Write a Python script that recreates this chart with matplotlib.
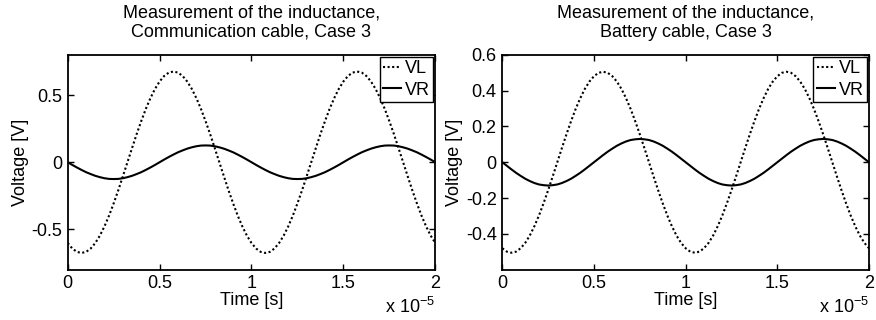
import numpy as np
import matplotlib
matplotlib.use("Agg")
import matplotlib.pyplot as plt

plt.rcParams["font.family"] = ["Liberation Sans", "DejaVu Sans"]
plt.rcParams["mathtext.fontset"] = "custom"
plt.rcParams["mathtext.rm"] = "Liberation Sans"

# Sample times in units of 1e-5 s (step 0.025)
time_units = [round(0.025 * i, 3) for i in range(81)]
time_scale = 1e-5

# Communication cable, case 3
vl_comm = [-0.601, -0.642, -0.667,
           -0.675, -0.667, -0.642, -0.601, -0.546, -0.477, -0.397, -0.306, -0.209, -0.105,
           0.000, 0.105, 0.209, 0.306, 0.397, 0.477, 0.546, 0.601, 0.642, 0.667,
           0.675, 0.667, 0.642, 0.601, 0.546, 0.477, 0.397, 0.306, 0.209, 0.105,
           0.000, -0.105, -0.209, -0.306, -0.397, -0.477, -0.546, -0.601, -0.642, -0.667,
           -0.675, -0.667, -0.642, -0.601, -0.546, -0.477, -0.397, -0.306, -0.209, -0.105,
           0.000, 0.105, 0.209, 0.306, 0.397, 0.477, 0.546, 0.601, 0.642, 0.667,
           0.675, 0.667, 0.642, 0.601, 0.546, 0.477, 0.397, 0.306, 0.209, 0.105,
           0.000, -0.105, -0.209, -0.306, -0.397, -0.477, -0.546, -0.601]
vr_comm = [0.000, -0.020, -0.039, -0.057, -0.074, -0.088, -0.101, -0.111, -0.119, -0.124,
           -0.125, -0.124, -0.119, -0.111, -0.101, -0.088, -0.074, -0.057, -0.039, -0.020,
           0.000, 0.020, 0.039, 0.057, 0.074, 0.088, 0.101, 0.111, 0.119, 0.124,
           0.125, 0.124, 0.119, 0.111, 0.101, 0.088, 0.074, 0.057, 0.039, 0.020,
           0.000, -0.020, -0.039, -0.057, -0.074, -0.088, -0.101, -0.111, -0.119, -0.124,
           -0.125, -0.124, -0.119, -0.111, -0.101, -0.088, -0.074, -0.057, -0.039, -0.020,
           0.000, 0.020, 0.039, 0.057, 0.074, 0.088, 0.101, 0.111, 0.119, 0.124,
           0.125, 0.124, 0.119, 0.111, 0.101, 0.088, 0.074, 0.057, 0.039, 0.020,
           0.000]

# Battery cable, case 3
vl_batt = [-0.480, -0.499,
           -0.505, -0.499, -0.480, -0.450, -0.409, -0.357, -0.297, -0.229, -0.156, -0.079,
           0.000, 0.079, 0.156, 0.229, 0.297, 0.357, 0.409, 0.450, 0.480, 0.499,
           0.505, 0.499, 0.480, 0.450, 0.409, 0.357, 0.297, 0.229, 0.156, 0.079,
           0.000, -0.079, -0.156, -0.229, -0.297, -0.357, -0.409, -0.450, -0.480, -0.499,
           -0.505, -0.499, -0.480, -0.450, -0.409, -0.357, -0.297, -0.229, -0.156, -0.079,
           0.000, 0.079, 0.156, 0.229, 0.297, 0.357, 0.409, 0.450, 0.480, 0.499,
           0.505, 0.499, 0.480, 0.450, 0.409, 0.357, 0.297, 0.229, 0.156, 0.079,
           0.000, -0.079, -0.156, -0.229, -0.297, -0.357, -0.409, -0.450, -0.480]
vr_batt = [0.000, -0.020, -0.040, -0.059, -0.076, -0.092, -0.105, -0.116, -0.124, -0.128,
           -0.130, -0.128, -0.124, -0.116, -0.105, -0.092, -0.076, -0.059, -0.040, -0.020,
           0.000, 0.020, 0.040, 0.059, 0.076, 0.092, 0.105, 0.116, 0.124, 0.128,
           0.130, 0.128, 0.124, 0.116, 0.105, 0.092, 0.076, 0.059, 0.040, 0.020,
           0.000, -0.020, -0.040, -0.059, -0.076, -0.092, -0.105, -0.116, -0.124, -0.128,
           -0.130, -0.128, -0.124, -0.116, -0.105, -0.092, -0.076, -0.059, -0.040, -0.020,
           0.000, 0.020, 0.040, 0.059, 0.076, 0.092, 0.105, 0.116, 0.124, 0.128,
           0.130, 0.128, 0.124, 0.116, 0.105, 0.092, 0.076, 0.059, 0.040, 0.020,
           0.000]

titles = ["Measurement of the inductance,\nCommunication cable, Case 3",
          "Measurement of the inductance,\nBattery cable, Case 3"]
x_tick_values = [0, 0.5, 1, 1.5, 2]
x_tick_labels = ["0", "0.5", "1", "1.5", "2"]
y_ticks_comm = [-0.5, 0, 0.5]
y_tick_labels_comm = ["-0.5", "0", "0.5"]
y_ticks_batt = [-0.4, -0.2, 0, 0.2, 0.4, 0.6]
y_tick_labels_batt = ["-0.4", "-0.2", "0", "0.2", "0.4", "0.6"]
series_names = ["VL", "VR"]

FS = 13
fig = plt.figure(figsize=(8.76, 3.2), dpi=100)
ax_left = fig.add_axes([0.0773, 0.157, 0.4196, 0.672])
ax_right = fig.add_axes([0.5734, 0.157, 0.4186, 0.672])

t = np.array(time_units) * time_scale
panels = [
    (ax_left, vl_comm, vr_comm, titles[0], (-0.8, 0.8), y_ticks_comm, y_tick_labels_comm),
    (ax_right, vl_batt, vr_batt, titles[1], (-0.6, 0.6), y_ticks_batt, y_tick_labels_batt),
]

for ax, vl, vr, title, ylim, yt, ytl in panels:
    ax.plot(t, vl, color="black", linestyle=(0, (1, 1.2)), linewidth=1.5, label=series_names[0])
    ax.plot(t, vr, color="black", linestyle="-", linewidth=1.5, label=series_names[1])
    ax.set_xlim(0, 2 * time_scale)
    ax.set_ylim(*ylim)
    ax.set_xticks([v * time_scale for v in x_tick_values])
    ax.set_xticklabels(x_tick_labels)
    ax.set_yticks(yt)
    ax.set_yticklabels(ytl)
    ax.tick_params(direction="in", length=4, width=1, top=True, right=True,
                   labelsize=FS, pad=4, colors="black")
    for s in ax.spines.values():
        s.set_linewidth(1.3)
    ax.set_title(title, fontsize=FS, pad=13, linespacing=1.15)
    ax.set_xlabel("Time [s]", fontsize=FS, labelpad=0)
    ax.set_ylabel("Voltage [V]", fontsize=FS, labelpad=2)
    ax.text(1.0, -0.125, r"x 10$^{-5}$", transform=ax.transAxes, ha="right", va="top",
            fontsize=FS)
    leg = ax.legend(loc="upper right", fontsize=FS, frameon=True, fancybox=False,
                    framealpha=1, edgecolor="black", borderaxespad=0.1, borderpad=0.2,
                    handlelength=1.0, handletextpad=0.2, labelspacing=0.25)
    leg.get_frame().set_linewidth(1.0)

fig.savefig("out.png", dpi=100)
